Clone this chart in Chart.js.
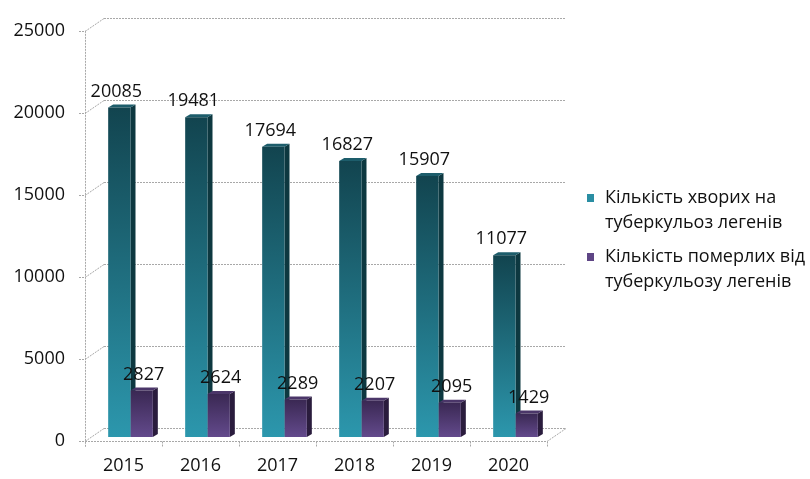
<!DOCTYPE html>
<html>
<head>
<meta charset="utf-8">
<script src="https://cdn.jsdelivr.net/npm/chart.js@4/dist/chart.umd.min.js"></script>
<style>
  html, body { margin: 0; padding: 0; background: #fff; }
  canvas { display: block; }
</style>
</head>
<body>
<canvas id="tbChart" width="810" height="479"></canvas>
<script>
// Data
const years = ['2015', '2016', '2017', '2018', '2019', '2020'];
const sickCounts = [20085, 19481, 17694, 16827, 15907, 11077];
const deathCounts = [2827, 2624, 2289, 2207, 2095, 1429];
const seriesNames = ['Кількість хворих на туберкульоз легенів', 'Кількість померлих від туберкульозу легенів'];
const legendLines = [
    ['Кількість хворих на', 'туберкульоз легенів'],
    ['Кількість померлих від', 'туберкульозу легенів']
];
const Y_MAX = 25000;
const Y_STEP = 5000;

// 3D look: back wall offset, bar plane offset, bar depth
const WALL = { dx: 19, dy: -13 };
const SHIFT = { dx: 7, dy: -4 };
const DEPTH = { dx: 5, dy: -3 };

const PALETTE = [
    { top: '#12444f', bottom: '#2c97ad', side: '#0d3840', cap: '#1d5d6b', key: '#2a8ea3' },
    { top: '#3a2853', bottom: '#634a8c', side: '#2a1c3d', cap: '#4b3669', key: '#5e4585' }
];

Chart.defaults.font.family = "'Open Sans', 'Noto Sans', sans-serif";
Chart.defaults.font.size = 18;
Chart.defaults.color = '#111';

function frontGradient(c, colors) {
    const chart = c.chart;
    const y = chart.scales.y;
    if (!y || c.dataIndex === undefined) return colors.bottom;
    const top = y.getPixelForValue(c.dataset.data[c.dataIndex]);
    const bottom = y.getPixelForValue(0);
    if (!isFinite(top) || !isFinite(bottom)) return colors.bottom;
    const g = chart.ctx.createLinearGradient(0, top, 0, bottom);
    g.addColorStop(0, colors.top);
    g.addColorStop(1, colors.bottom);
    return g;
}

function barBox(bar) {
    const p = bar.getProps(['x', 'y', 'base', 'width'], true);
    return { left: p.x - p.width / 2, right: p.x + p.width / 2, top: p.y, bottom: p.base, cx: p.x };
}

function poly(ctx, pts, fill) {
    ctx.beginPath();
    ctx.moveTo(pts[0][0], pts[0][1]);
    for (let i = 1; i < pts.length; i++) ctx.lineTo(pts[i][0], pts[i][1]);
    ctx.closePath();
    ctx.fillStyle = fill;
    ctx.fill();
}

const box3d = {
    id: 'box3d',
    beforeDatasetsDraw(chart) {
        const { ctx, chartArea: a, scales: { x, y } } = chart;

        // walls, floor and axis lines
        ctx.save();
        ctx.strokeStyle = '#a8a8a8';
        ctx.lineWidth = 1;
        ctx.setLineDash([2, 1]);
        ctx.beginPath();
        y.ticks.forEach(t => {
            const py = Math.round(y.getPixelForValue(t.value)) + 0.5;
            if (t.value > 0) {
                ctx.moveTo(a.left + WALL.dx, py + WALL.dy);
                ctx.lineTo(a.right + WALL.dx, py + WALL.dy);
            }
            ctx.moveTo(a.left, py);
            ctx.lineTo(a.left + WALL.dx, py + WALL.dy);
            ctx.moveTo(a.left - 6, py);
            ctx.lineTo(a.left, py);
        });
        const fb = Math.round(a.bottom) + 0.5;
        ctx.moveTo(a.left, fb);
        ctx.lineTo(a.right, fb);
        ctx.lineTo(a.right + WALL.dx, fb + WALL.dy);
        ctx.lineTo(a.left + WALL.dx, fb + WALL.dy);
        ctx.moveTo(a.left + 0.5, a.top);
        ctx.lineTo(a.left + 0.5, fb + 6);
        const n = x.ticks.length;
        for (let i = 1; i <= n; i++) {
            const bx = Math.round(a.left + i * a.width / n) + 0.5;
            ctx.moveTo(bx, fb);
            ctx.lineTo(bx, fb + 6);
        }
        ctx.stroke();
        ctx.restore();

        // side and top faces; front faces are drawn by the bar controller
        ctx.save();
        ctx.translate(SHIFT.dx, SHIFT.dy);
        [0, 1].forEach(di => {
            const col = PALETTE[di];
            chart.getDatasetMeta(di).data.forEach(bar => {
                const b = barBox(bar);
                poly(ctx, [[b.right, b.top], [b.right + DEPTH.dx, b.top + DEPTH.dy],
                    [b.right + DEPTH.dx, b.bottom + DEPTH.dy], [b.right, b.bottom]], col.side);
                poly(ctx, [[b.left, b.top], [b.left + DEPTH.dx, b.top + DEPTH.dy],
                    [b.right + DEPTH.dx, b.top + DEPTH.dy], [b.right, b.top]], col.cap);
            });
        });
        // translation stays on while datasets are drawn
    },
    afterDatasetsDraw(chart) {
        const { ctx } = chart;
        ctx.restore();

        // value labels
        ctx.save();
        ctx.font = "18px 'Open Sans', sans-serif";
        ctx.fillStyle = '#111';
        ctx.textAlign = 'center';
        ctx.textBaseline = 'middle';
        const nudge = [-3, 2];
        [0, 1].forEach(di => {
            const data = chart.data.datasets[di].data;
            chart.getDatasetMeta(di).data.forEach((bar, i) => {
                const b = barBox(bar);
                ctx.fillText(String(data[i]), b.cx + SHIFT.dx + nudge[di], b.top + SHIFT.dy - 16);
            });
        });
        ctx.restore();
    },
    afterDraw(chart) {
        // legend on the right, two lines per series
        const { ctx } = chart;
        ctx.save();
        ctx.font = "18px 'Open Sans', sans-serif";
        ctx.textBaseline = 'middle';
        const starts = [198, 257];
        legendLines.forEach((lines, si) => {
            const y0 = starts[si];
            ctx.fillStyle = PALETTE[si].key;
            ctx.fillRect(587, y0 - 4, 7, 8);
            ctx.fillStyle = '#111';
            lines.forEach((line, li) => ctx.fillText(line, 605, y0 + li * 25));
        });
        ctx.restore();
    }
};

new Chart(document.getElementById('tbChart'), {
    type: 'bar',
    data: {
        labels: years,
        datasets: [
            {
                label: seriesNames[0],
                data: sickCounts,
                backgroundColor: c => frontGradient(c, PALETTE[0]),
                categoryPercentage: 0.58,
                barPercentage: 1
            },
            {
                label: seriesNames[1],
                data: deathCounts,
                backgroundColor: c => frontGradient(c, PALETTE[1]),
                categoryPercentage: 0.58,
                barPercentage: 1
            }
        ]
    },
    options: {
        responsive: false,
        animation: false,
        layout: { padding: { top: 24, right: 263, left: 0, bottom: 0 } },
        plugins: { legend: { display: false }, tooltip: { enabled: false } },
        scales: {
            x: {
                grid: { display: false, drawTicks: false },
                border: { display: false },
                ticks: { padding: 14, maxRotation: 0 },
                afterFit: s => { s.height = 38; }
            },
            y: {
                min: 0,
                max: Y_MAX,
                grid: { display: false, drawTicks: false },
                border: { display: false },
                ticks: { stepSize: Y_STEP, padding: 20, callback: v => String(v) },
                afterFit: s => { s.width = 85; }
            }
        }
    },
    plugins: [box3d]
});
</script>
</body>
</html>
